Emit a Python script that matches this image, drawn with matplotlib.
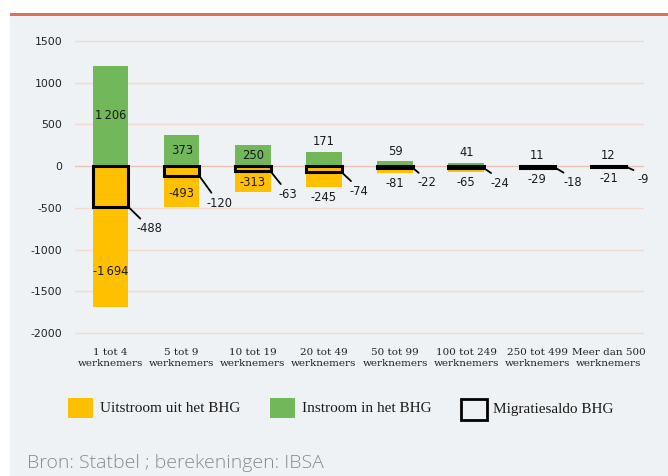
import matplotlib
matplotlib.use("Agg")
import matplotlib.pyplot as plt
from matplotlib.patches import Rectangle
import numpy as np

categories = ["1 tot 4\nwerknemers", "5 tot 9\nwerknemers", "10 tot 19\nwerknemers",
              "20 tot 49\nwerknemers", "50 tot 99\nwerknemers", "100 tot 249\nwerknemers",
              "250 tot 499\nwerknemers", "Meer dan 500\nwerknemers"]
instroom = [1206, 373, 250, 171, 59, 41, 11, 12]
uitstroom = [-1694, -493, -313, -245, -81, -65, -29, -21]
saldo = [-488, -120, -63, -74, -22, -24, -18, -9]
yticks = [1500, 1000, 500, 0, -500, -1000, -1500, -2000]

YELLOW = "#FFC000"
GREEN = "#72B85A"
BG = "#EFF2F4"
GRID = "#F3D9CE"
RED = "#E0705A"

W, H = 668, 476
fig = plt.figure(figsize=(W / 100, H / 100), dpi=100)
fig.patch.set_facecolor("white")

# gray panel and red rule
fig.patches.append(Rectangle((10 / W, 0), 1, 1 - 16 / H, transform=fig.transFigure,
                             facecolor=BG, edgecolor="none", zorder=-10))
fig.patches.append(Rectangle((10 / W, 1 - 16 / H), 1, 3.5 / H, transform=fig.transFigure,
                             facecolor=RED, edgecolor="none", zorder=-9))

ymin, ymax = -2050, 1550
pxu = (333 - 41) / 3500.0
top_px = 41 - (ymax - 1500) * pxu
bot_px = 333 + (-2000 - ymin) * pxu
ax = fig.add_axes([75 / W, 1 - bot_px / H, (644 - 75) / W, (bot_px - top_px) / H])
ax.set_facecolor("none")
ax.set_ylim(ymin, ymax)
ax.set_xlim(-0.5, len(categories) - 0.5)
for s in ax.spines.values():
    s.set_visible(False)

for t in yticks:
    ax.axhline(t, color=GRID if t != 0 else "#EBC3B5", lw=1.0, zorder=0.5)

x = np.arange(len(categories))
w = 0.5
ax.bar(x, instroom, width=w, color=GREEN, zorder=2)
ax.bar(x, uitstroom, width=w, color=YELLOW, zorder=2)
ax.bar(x, saldo, width=w, facecolor="none", edgecolor="black", linewidth=2.2, zorder=3)

ax.set_xticks(x)
ax.set_xticklabels(categories, family="DejaVu Serif", fontsize=7.5, color="#222222",
                   linespacing=1.2)
ax.set_yticks(yticks)
ax.set_yticklabels([str(t) for t in yticks], family="DejaVu Sans",
                   fontsize=7.8, color="#222222")
ax.tick_params(length=0, pad=9)
ax.tick_params(axis="x", pad=8)

lab = dict(family="DejaVu Sans", fontsize=8.3, color="#1a1a1a", ha="center", va="center", zorder=5)

def fmt(v):
    s = f"{abs(v):,}".replace(",", "\u2009")
    return ("-" if v < 0 else "") + s

# instroom labels
for i, v in enumerate(instroom):
    if v * pxu > 20:
        ax.text(i, v / 2, fmt(v), **lab)
    else:
        ax.annotate(fmt(v), (i, v), xytext=(0, 10), textcoords="offset pixels", **lab)

# uitstroom labels
out_nudge_px = [-14, -2, -1, -2, 0, 0, 0, 0]
for i, v in enumerate(uitstroom):
    if (saldo[i] - v) * pxu > 15:
        ax.annotate(fmt(v), (i, (v + saldo[i]) / 2), xytext=(0, out_nudge_px[i]),
                    textcoords="offset pixels", **lab)
    else:
        ax.annotate(fmt(v), (i, v), xytext=(0, -11), textcoords="offset pixels", **lab)

# saldo labels with leader lines
saldo_off_px = [(21, -22), (20, -27), (17, -23), (17, -19), (14, -15), (16, -15), (18, -15), (17, -13)]
for i, v in enumerate(saldo):
    dx, dy = saldo_off_px[i]
    ax.annotate(fmt(v), (i + w / 2, v), xytext=(dx, dy), textcoords="offset pixels",
                arrowprops=dict(arrowstyle="-", color="black", lw=1.3, shrinkA=1, shrinkB=0,
                                relpos=(0.3, 1.0)),
                **lab)

# legend
def leg_box(x0, color, text, edge=None):
    if edge:
        fig.patches.append(Rectangle((x0 / W, 1 - 420 / H), 26 / W, 21 / H, transform=fig.transFigure,
                                     facecolor="none", edgecolor="black", lw=2.0))
    else:
        fig.patches.append(Rectangle((x0 / W, 1 - 418 / H), 25 / W, 20 / H, transform=fig.transFigure,
                                     facecolor=color, edgecolor="none"))
    fig.text((x0 + 32) / W, 1 - 409 / H, text, family="Liberation Serif", fontsize=11,
             color="#1a1a1a", va="center", ha="left")

leg_box(68, YELLOW, "Uitstroom uit het BHG")
leg_box(270, GREEN, "Instroom in het BHG")
leg_box(461, None, "Migratiesaldo BHG", edge=True)

fig.text(27 / W, 1 - 463 / H, "Bron: Statbel ; berekeningen: IBSA", family="Open Sans",
         fontweight="light", fontsize=14, color="#8a8a8a", va="center", ha="left")

fig.savefig("out.png", dpi=100, facecolor=fig.get_facecolor())
